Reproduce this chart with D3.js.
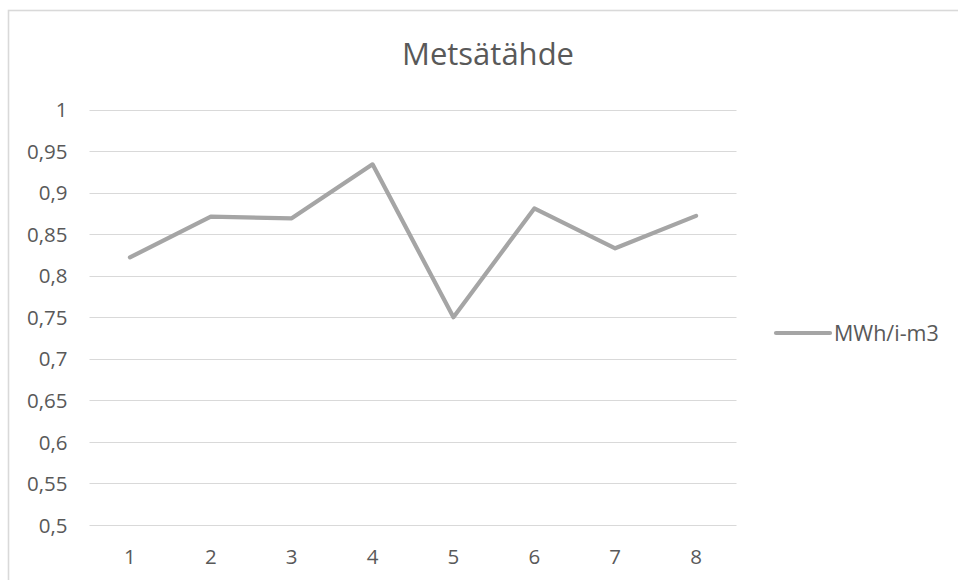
<!DOCTYPE html>
<html>
<head>
<meta charset="utf-8">
<script src="https://cdn.jsdelivr.net/npm/d3@7"></script>
<style>
  html, body { margin: 0; padding: 0; background: #fff; }
  svg { display: block; font-family: "Open Sans", "Noto Sans", sans-serif; }
</style>
</head>
<body>
<svg id="chart" width="958" height="580"></svg>
<script>
// Chart content
const chartTitle = "Metsätähde";
const seriesName = "MWh/i-m3";
const categories = ["1", "2", "3", "4", "5", "6", "7", "8"];
const values = [0.822, 0.871, 0.869, 0.934, 0.750, 0.881, 0.833, 0.872];
const yTicks = [0.5, 0.55, 0.6, 0.65, 0.7, 0.75, 0.8, 0.85, 0.9, 0.95, 1];
const yDomain = [0.5, 1];

const svg = d3.select("#chart");
const W = 958, H = 580;
const plot = { left: 89.5, right: 736.5, top: 109.5, bottom: 525 };

const textColor = "#595959";
const gridColor = "#d9d9d9";
const lineColor = "#a5a5a5";
const labelSize = 20.5;

// Chart area frame
svg.append("rect")
  .attr("x", 8.5).attr("y", 10.5)
  .attr("width", W + 20).attr("height", H + 20)
  .attr("fill", "#fff")
  .attr("stroke", gridColor)
  .attr("stroke-width", 1.6);

const x = d3.scaleBand()
  .domain(categories)
  .range([plot.left, plot.right])
  .paddingInner(0).paddingOuter(0);

const y = d3.scaleLinear()
  .domain(yDomain)
  .range([plot.bottom, plot.top]);

const fmt = v => d3.format("~g")(+v.toFixed(2)).replace(".", ",");

// Horizontal gridlines
svg.append("g")
  .selectAll("line")
  .data(yTicks)
  .join("line")
  .attr("x1", plot.left).attr("x2", plot.right)
  .attr("y1", d => Math.round(y(d)) + 0.5)
  .attr("y2", d => Math.round(y(d)) + 0.5)
  .attr("stroke", gridColor)
  .attr("stroke-width", 1.2);

// Y axis labels
const yAxis = d3.axisLeft(y).tickValues(yTicks).tickFormat(fmt).tickSize(0).tickPadding(0);
const gy = svg.append("g")
  .attr("transform", `translate(${67.5},0)`)
  .call(yAxis);
gy.select(".domain").remove();
gy.selectAll("text")
  .attr("fill", textColor)
  .attr("font-size", labelSize)
  .attr("font-family", "'Open Sans', 'Noto Sans', sans-serif")
  .attr("dy", "0.35em");

// X axis labels
const xAxis = d3.axisBottom(x).tickSize(0).tickPadding(0);
const gx = svg.append("g")
  .attr("transform", `translate(0,${plot.bottom})`)
  .call(xAxis);
gx.select(".domain").remove();
gx.selectAll("text")
  .attr("fill", textColor)
  .attr("font-size", labelSize)
  .attr("font-family", "'Open Sans', 'Noto Sans', sans-serif")
  .attr("y", 0)
  .attr("dy", 39);

// Data line
const line = d3.line()
  .x((d, i) => x(categories[i]) + x.bandwidth() / 2)
  .y(d => y(d));

svg.append("path")
  .datum(values)
  .attr("d", line)
  .attr("fill", "none")
  .attr("stroke", lineColor)
  .attr("stroke-width", 4.2)
  .attr("stroke-linejoin", "round")
  .attr("stroke-linecap", "round");

// Title
svg.append("text")
  .attr("x", 488)
  .attr("y", 65)
  .attr("text-anchor", "middle")
  .attr("fill", textColor)
  .attr("font-size", 31)
  .text(chartTitle);

// Legend
const lg = svg.append("g").attr("transform", "translate(776,333)");
lg.append("line")
  .attr("x1", 0).attr("x2", 54)
  .attr("y1", 0).attr("y2", 0)
  .attr("stroke", lineColor)
  .attr("stroke-width", 4.2)
  .attr("stroke-linecap", "round");
lg.append("text")
  .attr("x", 58)
  .attr("y", 0)
  .attr("dy", "0.35em")
  .attr("fill", textColor)
  .attr("font-size", 21.5)
  .text(seriesName);
</script>
</body>
</html>
